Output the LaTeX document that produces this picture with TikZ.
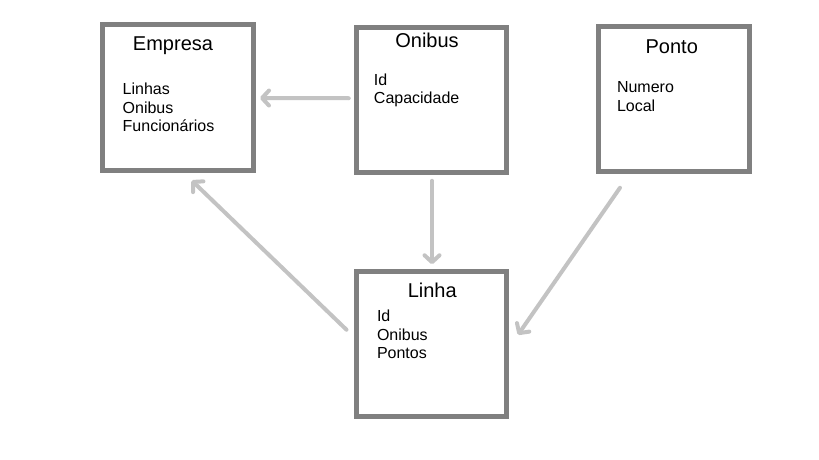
\documentclass[tikz,border=0pt]{standalone}
\usepackage{fontspec}
\setmainfont{Liberation Sans}
\usetikzlibrary{arrows.meta, positioning}
\definecolor{boxgray}{HTML}{808080}
\definecolor{arrowgray}{HTML}{C3C3C3}

\tikzset{
	classbox/.style={draw=boxgray, line width=5pt, minimum width=150.5pt, minimum height=145pt, inner sep=0pt},
	classname/.style={font=\fontsize{20}{23}\selectfont, anchor=base, inner sep=0pt},
	fields/.style={font=\fontsize{16}{18.5}\selectfont, align=left, anchor=north west, inner sep=0pt},
	link/.style={draw=arrowgray, line width=4pt, line cap=round, -{Straight Barb[length=7pt, width=15pt, round]}}
}

\begin{document}
\begin{tikzpicture}[x=1pt, y=-1pt]
		\useasboundingbox (0,0) rectangle (819,460);
		% boxes
		\node[classbox] (empresa) at (177.75,97.5) {};
		\node[classbox] (onibus) at (431.5,99.75) {};
		\node[classbox] (ponto) at (673.75,98.75) {};
		\node[classbox] (linha) at (431.25,343.75) {};
		% names:
		\node[classname] (empresaT) at ([xshift=-4.75pt, yshift=-28.5pt]empresa.north) {Empresa};
		\node[classname] (onibusT) at ([xshift=-4.5pt, yshift=-22.5pt]onibus.north) {Onibus};
		\node[classname] (pontoT) at ([xshift=-2pt, yshift=-29.5pt]ponto.north) {Ponto};
		\node[classname] (linhaT) at ([xshift=1pt, yshift=-29pt]linha.north) {Linha};
		% fields
		\node[fields] (empresaF) at ([xshift=22.5pt, yshift=-60.5pt]empresa.north west) {Linhas\\Onibus\\Funcionários};
		\node[fields] (onibusF) at ([xshift=20pt, yshift=-48.5pt]onibus.north west) {Id\\Capacidade};
		\node[fields] (pontoF) at ([xshift=20.8pt, yshift=-58pt]ponto.north west) {Numero\\Local};
		\node[fields] (linhaF) at ([xshift=23.3pt, yshift=-41pt]linha.north west) {Id\\Onibus\\Pontos};
		% arrows
		\draw[link] ([xshift=-5pt, yshift=1.5pt]onibus.west) -- ([xshift=4.5pt, yshift=-0.5pt]empresa.east); %onibus-empresa
		\draw[link] ([xshift=0.5pt, yshift=-6pt]onibus.south) -- ([xshift=0.75pt, yshift=4.5pt]linha.north); %onibus-linha
		\draw[link] ([xshift=24pt, yshift=-14pt]ponto.south west) -- ([xshift=9pt, yshift=9pt]linha.east); %ponto-linha
		\draw[link] ([xshift=-7pt, yshift=14pt]linha.west) -- ([xshift=14pt, yshift=-8pt]empresa.south); %linha-empresa
	\end{tikzpicture}
\end{document}
